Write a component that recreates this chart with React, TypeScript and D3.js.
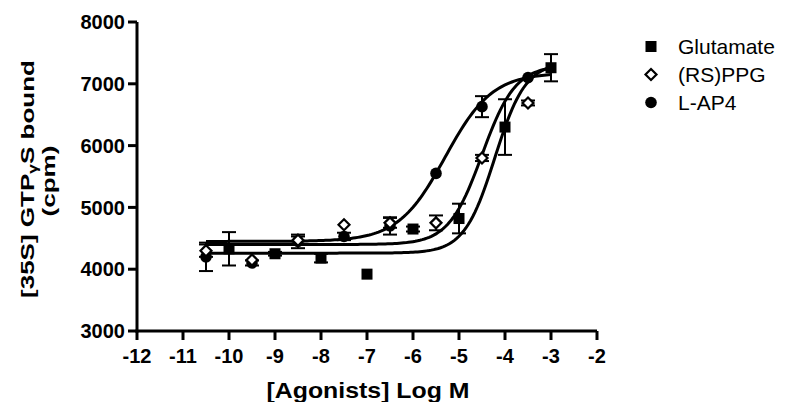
import * as d3 from "d3";

// log molar concentrations and mean responses (cpm)
const gluX = [-10, -9, -8, -7, -6, -5, -4, -3];
const gluY = [4330, 4250, 4180, 3920, 4650, 4820, 6300, 7260];
const gluErr = [270, 30, 70, 0, 40, 240, 450, 220];

const ppgX = [-10.5, -9.5, -8.5, -7.5, -6.5, -5.5, -4.5, -3.5];
const ppgY = [4300, 4150, 4470, 4720, 4750, 4750, 5800, 6690];
const ppgErr = [100, 0, 60, 0, 80, 120, 50, 40];

const lapX = [-10.5, -9.5, -8.5, -7.5, -6.5, -5.5, -4.5, -3.5];
const lapY = [4200, 4100, 4450, 4530, 4700, 5550, 6630, 7100];
const lapErr = [230, 40, 110, 60, 140, 0, 170, 0];

// sigmoidal fit params [bottom, top, logEC50, hill]
const gluFit = [4260, 7350, -4.22, 1.3];
const ppgFit = [4400, 7300, -4.5, 1.2];
const lapFit = [4450, 7180, -5.3, 0.85];

const xTicks = [-12, -11, -10, -9, -8, -7, -6, -5, -4, -3, -2];
const yTicks = [3000, 4000, 5000, 6000, 7000, 8000];
const legendNames = ["Glutamate", "(RS)PPG", "L-AP4"];

const x = d3.scaleLinear().domain([-12, -2]).range([137, 597]);
const y = d3.scaleLinear().domain([3000, 8000]).range([331, 22]);

function fitCurve(p: number[]) {
  const xs = d3.range(-10.5, -2.99, 0.05);
  const line = d3.line<number>()
    .x(d => x(d))
    .y(d => y(p[0] + (p[1] - p[0]) / (1 + Math.pow(10, (p[2] - d) * p[3]))));
  return line(xs) || "";
}

function ErrBars({ xs, ys, es }: { xs: number[]; ys: number[]; es: number[] }) {
  return (
    <g stroke="#000" strokeWidth={2}>
      {xs.map((v, i) => es[i] > 0 ? (
        <g key={i}>
          <line x1={x(v)} x2={x(v)} y1={y(ys[i] - es[i])} y2={y(ys[i] + es[i])} />
          <line x1={x(v) - 7} x2={x(v) + 7} y1={y(ys[i] - es[i])} y2={y(ys[i] - es[i])} />
          <line x1={x(v) - 7} x2={x(v) + 7} y1={y(ys[i] + es[i])} y2={y(ys[i] + es[i])} />
        </g>
      ) : null)}
    </g>
  );
}

const square = (cx: number, cy: number, k: any) => (
  <rect key={k} x={cx - 5.5} y={cy - 5.5} width={11} height={11} fill="#000" />
);
const diamond = (cx: number, cy: number, k: any) => (
  <path key={k} d={`M${cx},${cy - 5.5}L${cx + 5.5},${cy}L${cx},${cy + 5.5}L${cx - 5.5},${cy}Z`}
    fill="#fff" stroke="#000" strokeWidth={2.2} />
);
const dot = (cx: number, cy: number, k: any) => (
  <circle key={k} cx={cx} cy={cy} r={5.8} fill="#000" />
);
const markers = [square, diamond, dot];

export default function App() {
  const font = "'Liberation Sans', Arial, sans-serif";
  return (
    <svg width={792} height={402} style={{ position: "absolute", left: 0, top: 0 }} fontFamily={font}>
      <rect width={792} height={402} fill="#fff" />

      {/* curves */}
      <g fill="none" stroke="#000" strokeWidth={3}>
        <path d={fitCurve(gluFit)} />
        <path d={fitCurve(ppgFit)} />
        <path d={fitCurve(lapFit)} />
      </g>

      <ErrBars xs={gluX} ys={gluY} es={gluErr} />
      <ErrBars xs={ppgX} ys={ppgY} es={ppgErr} />
      <ErrBars xs={lapX} ys={lapY} es={lapErr} />

      {lapX.map((v, i) => dot(x(v), y(lapY[i]), "l" + i))}
      {ppgX.map((v, i) => diamond(x(v), y(ppgY[i]), "p" + i))}
      {gluX.map((v, i) => square(x(v), y(gluY[i]), "g" + i))}

      {/* axes */}
      <g stroke="#000" strokeWidth={3}>
        <line x1={137} x2={137} y1={y(8000)} y2={y(3000) + 1.5} />
        <line x1={135.5} x2={597} y1={331} y2={331} />
        {yTicks.map(t => <line key={t} x1={128} x2={137} y1={y(t)} y2={y(t)} />)}
        {xTicks.map(t => <line key={t} x1={x(t)} x2={x(t)} y1={331} y2={340} />)}
      </g>
      <g fontSize={20} fontWeight="bold" fill="#000">
        {yTicks.map(t => (
          <text key={t} x={125} y={y(t)} dy="0.36em" textAnchor="end">{t}</text>
        ))}
        {xTicks.map(t => (
          <text key={t} x={x(t)} y={363} textAnchor="middle">{t}</text>
        ))}
      </g>

      <text x={368} y={398} textAnchor="middle" fontSize={22} fontWeight="bold"
        textLength={203} lengthAdjust="spacingAndGlyphs">[Agonists] Log M</text>
      <g transform="translate(0,179) rotate(-90)" fontSize={18} fontWeight="bold" textAnchor="middle">
        <text x={0} y={34} textLength={238} lengthAdjust="spacingAndGlyphs">
          [35S] GTP<tspan fontSize={12} dy={3}>γ</tspan><tspan dy={-3}>S bound</tspan>
        </text>
        <text x={-2} y={55} textLength={71} lengthAdjust="spacingAndGlyphs">(cpm)</text>
      </g>

      {/* legend */}
      <g fontSize={21}>
        {legendNames.map((n, i) => (
          <g key={n}>
            {markers[i](651, 46.5 + i * 28, "m" + i)}
            <text x={678} y={46.5 + i * 28} dy="0.36em">{n}</text>
          </g>
        ))}
      </g>
    </svg>
  );
}
